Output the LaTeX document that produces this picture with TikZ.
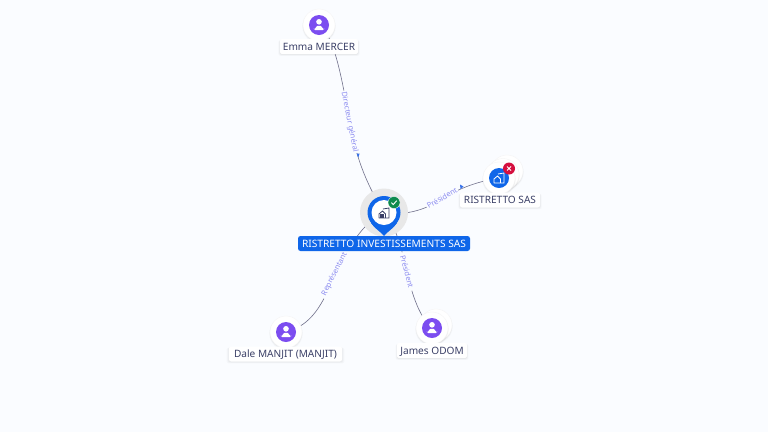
\documentclass[tikz,border=0pt]{standalone}
\usepackage{fontspec}
\setmainfont{Noto Sans}
\usetikzlibrary{shadows,arrows.meta,calc}
\definecolor{bgc}{HTML}{FAFCFF}
\definecolor{pur}{HTML}{7C4DF0}
\definecolor{blu}{HTML}{0F66E9}
\definecolor{txt}{HTML}{3A3F66}
\definecolor{lnk}{HTML}{6F6F8A}
\definecolor{lab}{HTML}{8C8CF0}
\definecolor{grn}{HTML}{0E8A4E}
\definecolor{rd}{HTML}{D5103F}
\tikzset{
 x=1pt,y=-1pt,
 softshadow/.style={
   general shadow={shadow xshift=0pt,shadow yshift=-1.5pt,shadow scale=1.04,fill=black!60,opacity=.035},
   general shadow={shadow xshift=0pt,shadow yshift=-1pt,shadow scale=1.02,fill=black!60,opacity=.05},
   general shadow={shadow xshift=0pt,shadow yshift=-.5pt,fill=black!60,opacity=.07}},
 ring/.style={circle,fill=white,draw=black!4,line width=.4pt,minimum size=32pt,inner sep=0pt,softshadow},
 disc/.style={circle,minimum size=20pt,inner sep=0pt},
 namebox/.style={rounded corners=2pt,fill=white,softshadow,text=txt,font=\fontsize{10.1}{11}\selectfont,inner sep=0pt,minimum height=15pt,text height=8.2pt,text depth=.8pt},
 edgeline/.style={draw=lnk,line width=.6pt},
 edgelabel/.style={fill=bgc,text=lab,font=\fontsize{7.5}{8}\selectfont,inner xsep=1pt,inner ysep=.5pt},
 tip/.style={fill=blu!70!lab,draw=none},
}
\newcommand{\personicon}[1]{%
 \fill[white] ($(#1)+(0,-3.2)$) circle (2.8);
 \fill[white,rounded corners=1.5pt] ($(#1)+(-5.4,5)$) -- ($(#1)+(-5.4,2.6)$) to[out=-60,in=180] ($(#1)+(0,.8)$) to[out=0,in=-120] ($(#1)+(5.4,2.6)$) -- ($(#1)+(5.4,5)$) -- cycle;}
\newcommand{\houseicon}[2]{%
 \draw[#2,line width=.8pt,line join=round] ($(#1)+(-5,5)$) -- ($(#1)+(-5,1)$) -- ($(#1)+(-1.5,-2)$) -- ($(#1)+(1.5,1)$) -- ($(#1)+(1.5,5)$) -- cycle;
 \draw[#2,line width=.8pt] ($(#1)+(-1,-4)$) -- ($(#1)+(5,-5)$) -- ($(#1)+(5,5)$) -- ($(#1)+(1.5,5)$);}
\begin{document}
\begin{tikzpicture}
\useasboundingbox[fill=bgc] (0,0) rectangle (768,432);
% anchors
\coordinate (c) at (384,212.5);
\coordinate (em) at (319,25);
\coordinate (ri) at (499,178);
\coordinate (da) at (286,332);
\coordinate (ja) at (432,328);
% connectors
\draw[edgeline] (em) .. controls (335,35) and (343,85) .. (350,124) .. controls (356,155) and (364,180) .. (c);
\draw[edgeline] (c) .. controls (405,216) and (425,210) .. (442,199) .. controls (458,189) and (475,182) .. (ri);
\draw[edgeline] (c) .. controls (365,222) and (352,240) .. (335,275) .. controls (322,305) and (312,325) .. (da);
\draw[edgeline] (c) .. controls (395,225) and (401,245) .. (407,272) .. controls (412,295) and (420,318) .. (ja);
% connector labels
\node[edgelabel,rotate=-79] (l1) at (349.5,122) {Directeur général};
\node[edgelabel,rotate=30] (l2) at (442,198) {Président};
\node[edgelabel,rotate=63,inner xsep=3pt] (l3) at (334.5,274) {Représentant};
\node[edgelabel,rotate=-75,inner xsep=3pt] (l4) at (407,271.5) {Président};
\fill[tip] (356.6,153.5) -- (359.6,153.5) -- (358.3,157.5) -- cycle;
\fill[tip] (460,184.5) -- (463.5,186.5) -- (460.5,189) -- cycle;
% centre
\node[circle,fill=black!9,minimum size=48pt,inner sep=0pt] (halo) at (c) {};
\node[circle,fill=blu,minimum size=33pt,inner sep=0pt] (pin) at (c) {};
\fill[blu] (371,223) .. controls (375,229) and (380,231) .. (384,236) .. controls (388,231) and (393,229) .. (397,223) -- cycle;
\node[circle,fill=white,minimum size=25pt,inner sep=0pt] (cw) at (c) {};
\houseicon{384,213}{txt}
\fill[txt] (380,214) rectangle (384,218);
\node[circle,fill=grn,draw=white,line width=.3pt,minimum size=12pt,inner sep=0pt] (cb) at (394,202.5) {};
\draw[white,line width=.9pt] (391.4,202.6) -- (393.2,204.6) -- (396.8,200.6);
\node[rounded corners=2.5pt,fill=blu,text=white,font=\fontsize{10.2}{11}\selectfont,minimum width=172pt,minimum height=15pt,inner sep=0pt,text height=8.2pt,text depth=.8pt] (cl) at (384,243.5) {RISTRETTO INVESTISSEMENTS SAS};
% Emma
\node[ring] (emr) at (em) {};
\node[disc,fill=pur] (emd) at (em) {};
\personicon{em}
\node[namebox,minimum width=78pt] (eml) at (319,46.5) {Emma MERCER};
% Ristretto
\node[ring] (rib2) at (507,171) {};
\node[ring] (rib1) at (503,174.5) {};
\node[ring] (rir) at (ri) {};
\node[disc,fill=blu] (rid) at (ri) {};
\houseicon{499,178}{white}
\node[circle,fill=rd,minimum size=12pt,inner sep=0pt] (rib) at (509,168.5) {};
\draw[white,line width=.8pt] (507,166.5) -- (511,170.5) (511,166.5) -- (507,170.5);
\node[namebox,minimum width=80pt] (ril) at (500,200) {RISTRETTO SAS};
% Dale
\node[ring] (dar) at (da) {};
\node[disc,fill=pur] (dad) at (da) {};
\personicon{da}
\node[namebox,minimum width=113pt] (dal) at (285.5,354) {Dale MANJIT (MANJIT)};
% James
\node[ring] (jab) at (436,325) {};
\node[ring] (jar) at (ja) {};
\node[disc,fill=pur] (jad) at (ja) {};
\personicon{ja}
\node[namebox,minimum width=70pt] (jal) at (432,350.5) {James ODOM};
\end{tikzpicture}
\end{document}
